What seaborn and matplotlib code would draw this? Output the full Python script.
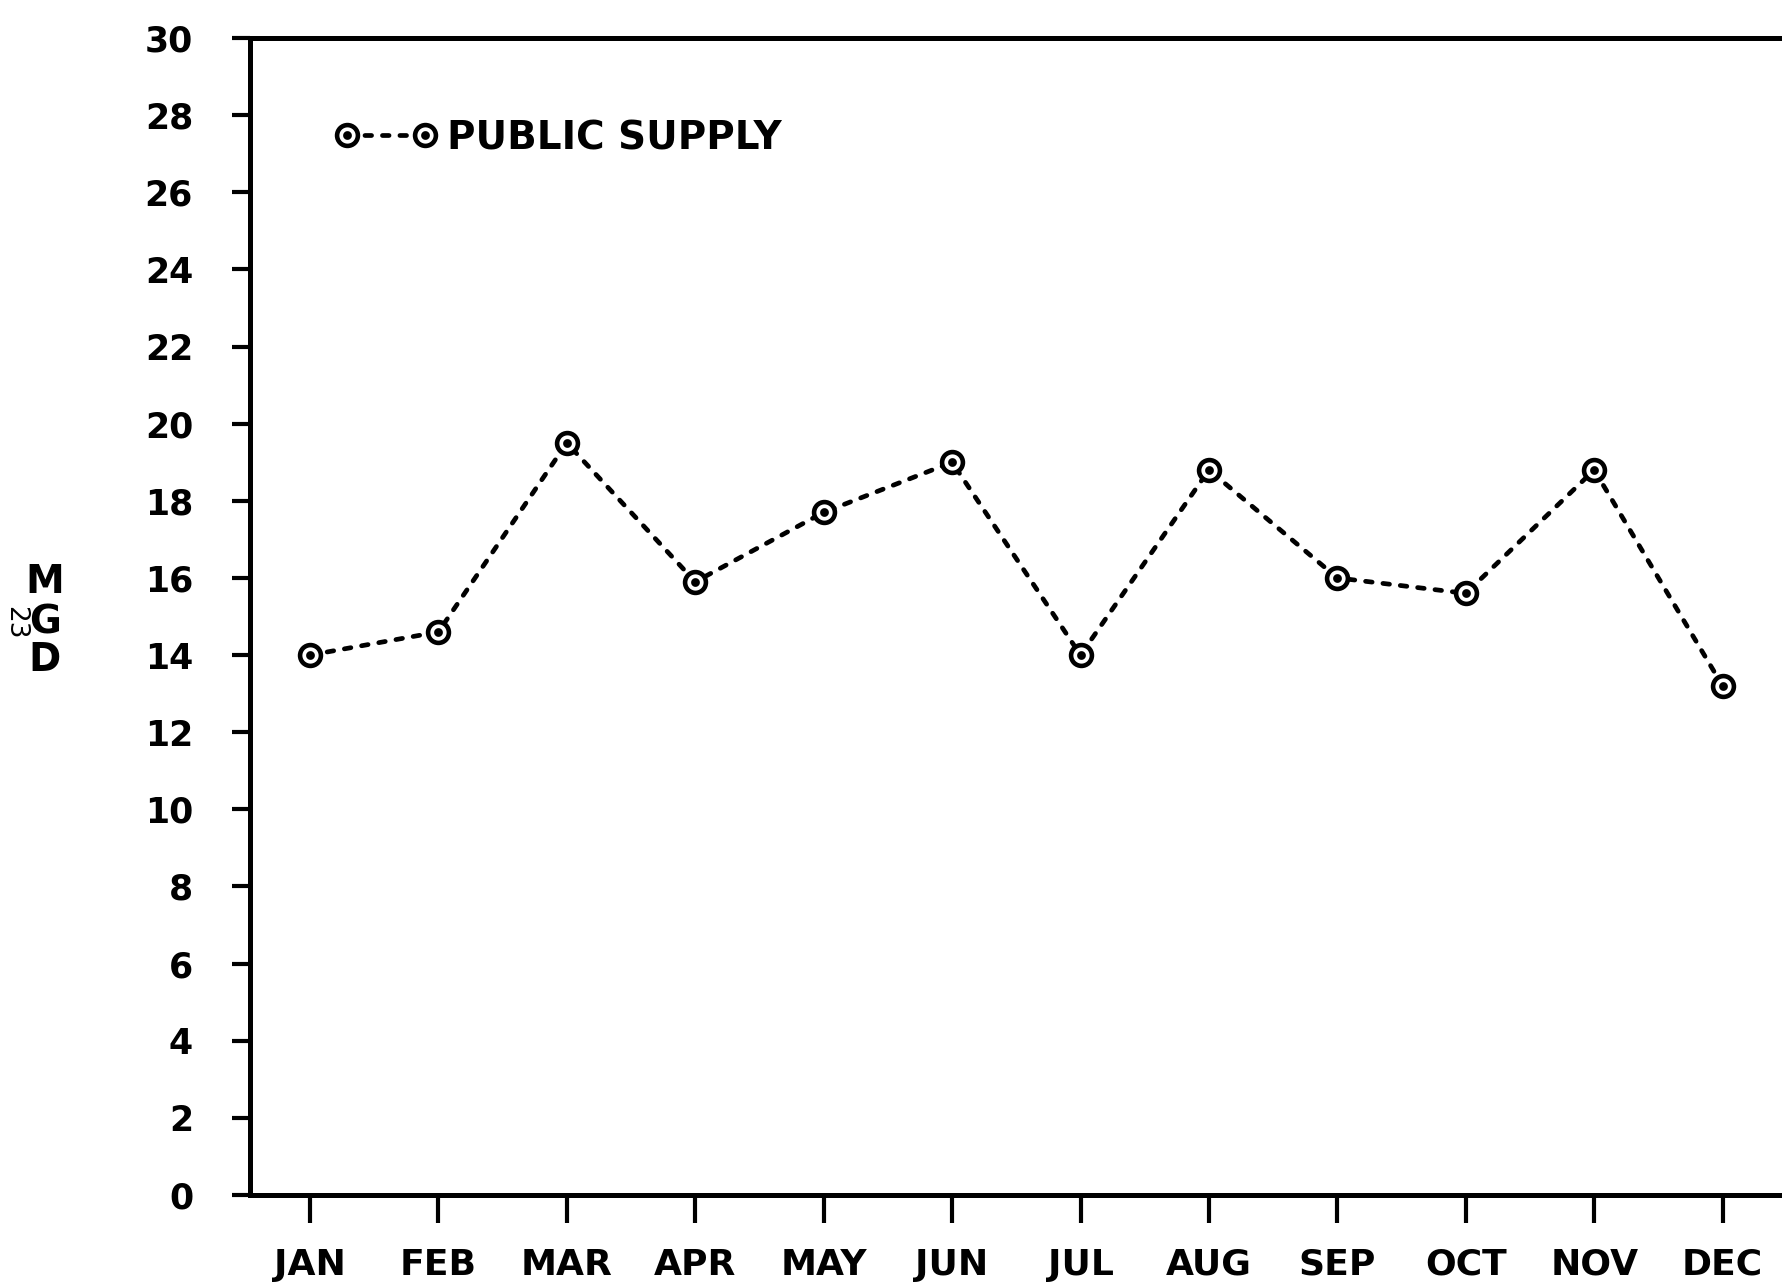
import numpy as np
import matplotlib
matplotlib.use("Agg")
import matplotlib.pyplot as plt
from matplotlib.path import Path
import seaborn as sns
import pandas as pd

months = ["JAN", "FEB", "MAR", "APR", "MAY", "JUN", "JUL", "AUG", "SEP", "OCT", "NOV", "DEC"]
public_supply = [14.0, 14.6, 19.5, 15.9, 17.7, 19.0, 14.0, 18.8, 16.0, 15.6, 18.8, 13.2]
y_ticks = list(range(0, 31, 2))
series_label = "PUBLIC SUPPLY"

sns.set_style("white")
plt.rcParams['font.family'] = ['DejaVu Sans']
plt.rcParams['text.color'] = 'black'

W, H = 1783, 1288
fig = plt.figure(figsize=(W / 100, H / 100), dpi=100)
ax = fig.add_axes([250 / W, 1 - 1195 / H, 1 - 250 / W, (1195 - 38) / H])

df = pd.DataFrame({"idx": np.arange(len(months)), "val": public_supply})

# circle with a dot inside
outer = Path.unit_circle()
inner = Path(Path.unit_circle().vertices * 0.2, Path.unit_circle().codes)
dot_circle = Path.make_compound_path(outer, inner)

sns.lineplot(data=df, x="idx", y="val", ax=ax, color="black",
             linestyle=(0, (1.4, 2.3)), linewidth=3.4,
             marker=dot_circle, markersize=15, markerfacecolor="white",
             markeredgecolor="black", markeredgewidth=3.3,
             label=series_label)
for ln in ax.get_lines():
    ln.set_dash_capstyle("round")

ax.set_xlim(-0.467, 11.47)
ax.set_ylim(0, 30)
ax.set_xticks(np.arange(len(months)))
ax.set_xticklabels(months)
ax.set_yticks(y_ticks)
ax.set_yticklabels([str(v) for v in y_ticks])
ax.set_xlabel("")
ax.set_ylabel("")

for s in ["left", "bottom", "top"]:
    ax.spines[s].set_visible(True)
    ax.spines[s].set_linewidth(3.6)
    ax.spines[s].set_color("black")
ax.spines["right"].set_visible(False)

ax.tick_params(axis="y", direction="out", length=13, width=3, pad=28,
               labelsize=25, colors="black", left=True)
ax.tick_params(axis="x", direction="out", length=20, width=3, pad=18,
               labelsize=26, colors="black", bottom=True)
for t in ax.get_xticklabels() + ax.get_yticklabels():
    t.set_fontweight("bold")

leg = ax.legend(loc="center left", bbox_to_anchor=(335 / W, 1 - 138 / H),
                bbox_transform=fig.transFigure, frameon=False, numpoints=2,
                handlelength=2.61, handletextpad=0.27, borderpad=0,
                borderaxespad=0, prop={"size": 28, "weight": "bold"})
for t in leg.get_texts():
    t.set_color("black")

# stacked y-axis label
for letter, yc in zip(["M", "G", "D"], [582, 622, 660]):
    fig.text(45 / W, 1 - yc / H, letter, ha="center", va="center",
             fontsize=28, fontweight="bold", color="black")
fig.text(15 / W, 1 - 623 / H, "23", ha="center", va="center",
         fontsize=19, rotation=-90, color="black")

fig.savefig("out.png", dpi=100)
